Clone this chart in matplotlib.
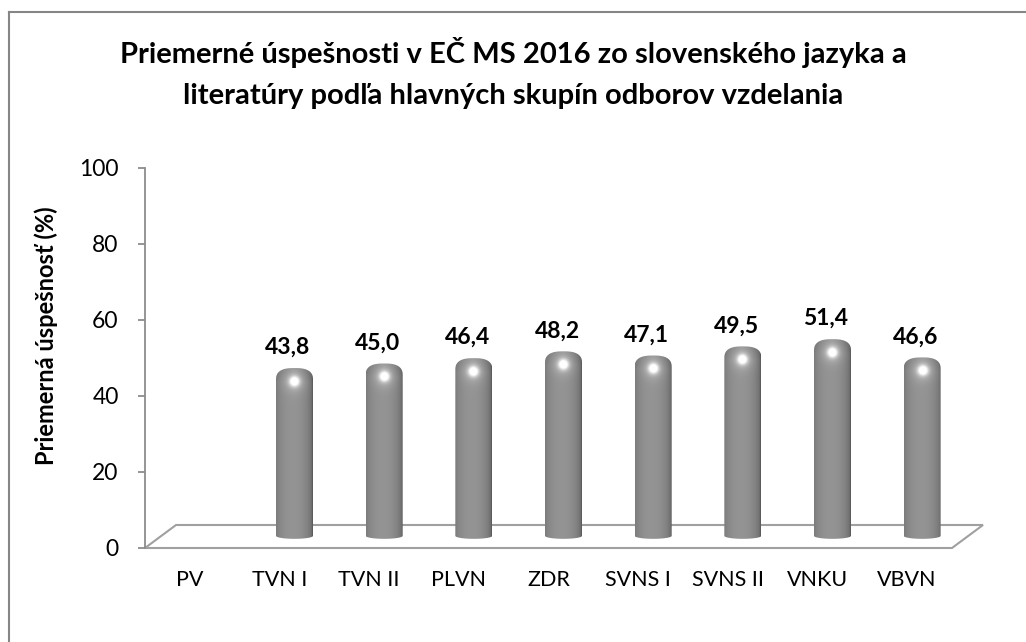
import numpy as np
import matplotlib
matplotlib.use("Agg")
import matplotlib.pyplot as plt
from matplotlib.path import Path
from matplotlib.patches import PathPatch, Polygon
from matplotlib.lines import Line2D

plt.rcParams['font.family'] = ['Lato', 'DejaVu Sans']

# ---- data ----
categories = ["PV", "TVN I", "TVN II", "PLVN", "ZDR", "SVNS I", "SVNS II", "VNKU", "VBVN"]
values = [None, 43.8, 45.0, 46.4, 48.2, 47.1, 49.5, 51.4, 46.6]
value_labels = ["", "43,8", "45,0", "46,4", "48,2", "47,1", "49,5", "51,4", "46,6"]
y_ticks = [0, 20, 40, 60, 80, 100]
title_lines = ["Priemerné úspešnosti v EČ MS 2016 zo slovenského jazyka a",
               "literatúry podľa hlavných skupín odborov vzdelania"]
y_label = "Priemerná úspešnosť (%)"

W, H = 1026, 642
fig = plt.figure(figsize=(W / 100, H / 100), dpi=100)
fig.patch.set_facecolor("white")

# axes in pixel coordinates
x0p, x1p = 145, 952
y0p, y1p = 548, 168
ax = fig.add_axes([x0p / W, (H - y0p) / H, (x1p - x0p) / W, (y0p - y1p) / H])
ax.set_facecolor("none")
n = len(categories)
ax.set_xlim(0, n)
ax.set_ylim(0, 100)
sx = (x1p - x0p) / n      # px per x unit
sy = (y0p - y1p) / 100.0  # px per y unit

for s in ax.spines.values():
    s.set_visible(False)

axis_col = "#8c8c8c"
ax.plot([0, 0], [0, 100], color=axis_col, lw=1.3, clip_on=False, zorder=3)
ax.set_yticks(y_ticks)
ax.set_yticklabels([str(t) for t in y_ticks], fontsize=16.5, color="black")
ax.tick_params(axis="y", length=5, width=1.3, color=axis_col, pad=14)
ax.set_xticks([i + 0.5 for i in range(n)])
ax.set_xticklabels(categories, fontsize=15.5, color="black")
ax.tick_params(axis="x", length=0, pad=16)

fig.text(46 / W, 1 - 336 / H, y_label, rotation=90, ha="center", va="center",
         fontsize=17, fontweight="bold")

# floor (3D-like parallelogram)
ddx = 31 / sx
ddy = 23 / sy
floor = Polygon([(0, 0), (n, 0), (n + ddx, ddy), (ddx, ddy)], closed=True,
                facecolor="white", edgecolor="#a0a0a0", lw=1.5, clip_on=False, zorder=1)
ax.add_patch(floor)

# cylinders
bw_px = 37
r = (bw_px / 2) / sx
shift = 15 / sx
yb = 3.2
eb = 3.0 / sy
et = 12.0 / sy


def cyl_path(cx, v):
    ys = v + 0.4
    th1 = np.linspace(np.pi, 2 * np.pi, 40)
    bx = cx + r * np.cos(th1)
    by = yb + eb * np.sin(th1)
    th2 = np.linspace(0, np.pi, 60)
    c = np.cos(th2)
    s = np.sin(th2)
    tx = cx + r * np.sign(c) * np.abs(c) ** 0.75
    ty = ys + et * s ** 0.75
    xs = np.concatenate([bx, tx])
    yy = np.concatenate([by, ty])
    verts = np.column_stack([xs, yy])
    verts = np.vstack([verts, verts[0]])
    codes = [Path.MOVETO] + [Path.LINETO] * (len(verts) - 2) + [Path.CLOSEPOLY]
    return Path(verts, codes)


for i, v in enumerate(values):
    if v is None:
        continue
    cx = i + 0.5 + shift
    ytop = v + 0.4 + et
    ybot = yb - eb
    hpx = int((ytop - ybot) * sy) + 2
    wpx = bw_px + 2
    xx = np.linspace(-1, 1, wpx)
    yy = np.linspace(0, hpx, hpx)  # px from bottom
    X, Y = np.meshgrid(xx, yy)
    t = X + 0.1
    shade = 0.36 + 0.22 * np.sqrt(np.clip(1 - (t / 1.1) ** 2, 0, 1))
    dome = np.clip((Y - (hpx - 14)) / 14.0, 0, 1)
    shade = shade - 0.05 * dome * np.abs(X)
    # highlight near the top
    hy = hpx - 13
    d2 = ((X * bw_px / 2) ** 2 + (Y - hy) ** 2)
    shade = shade + 0.55 * np.exp(-d2 / (2 * 3.4 ** 2)) + 0.14 * np.exp(-d2 / (2 * 7.5 ** 2))
    shade = np.clip(shade, 0, 1)
    img = np.dstack([shade, shade, shade, np.ones_like(shade)])
    patch = PathPatch(cyl_path(cx, v), facecolor="none", edgecolor="none", zorder=2)
    ax.add_patch(patch)
    im = ax.imshow(img, extent=[cx - r, cx + r, ybot, ytop], origin="lower",
                   aspect="auto", zorder=2, interpolation="bilinear")
    im.set_clip_path(patch)
    ax.annotate(value_labels[i], xy=(i + 0.5 + 8.5 / sx, v), xytext=(0, 34),
                textcoords="offset pixels", ha="center", va="center",
                fontsize=16.5, fontweight="bold", color="black", zorder=4)

ax.set_xlim(0, n)
ax.set_ylim(0, 100)

# title
fig.text(513 / W, 1 - 52 / H, title_lines[0], ha="center", va="center",
         fontsize=21, fontweight="bold")
fig.text(513 / W, 1 - 96 / H, title_lines[1], ha="center", va="center",
         fontsize=21, fontweight="bold")

# outer chart border (left and top visible)
fig.add_artist(Line2D([9 / W, 9 / W], [0, 1 - 12 / H], transform=fig.transFigure,
                      color="#868686", lw=1.5))
fig.add_artist(Line2D([9 / W, 1], [1 - 12 / H, 1 - 12 / H], transform=fig.transFigure,
                      color="#868686", lw=1.5))

fig.savefig("out.png", dpi=100, facecolor="white")
